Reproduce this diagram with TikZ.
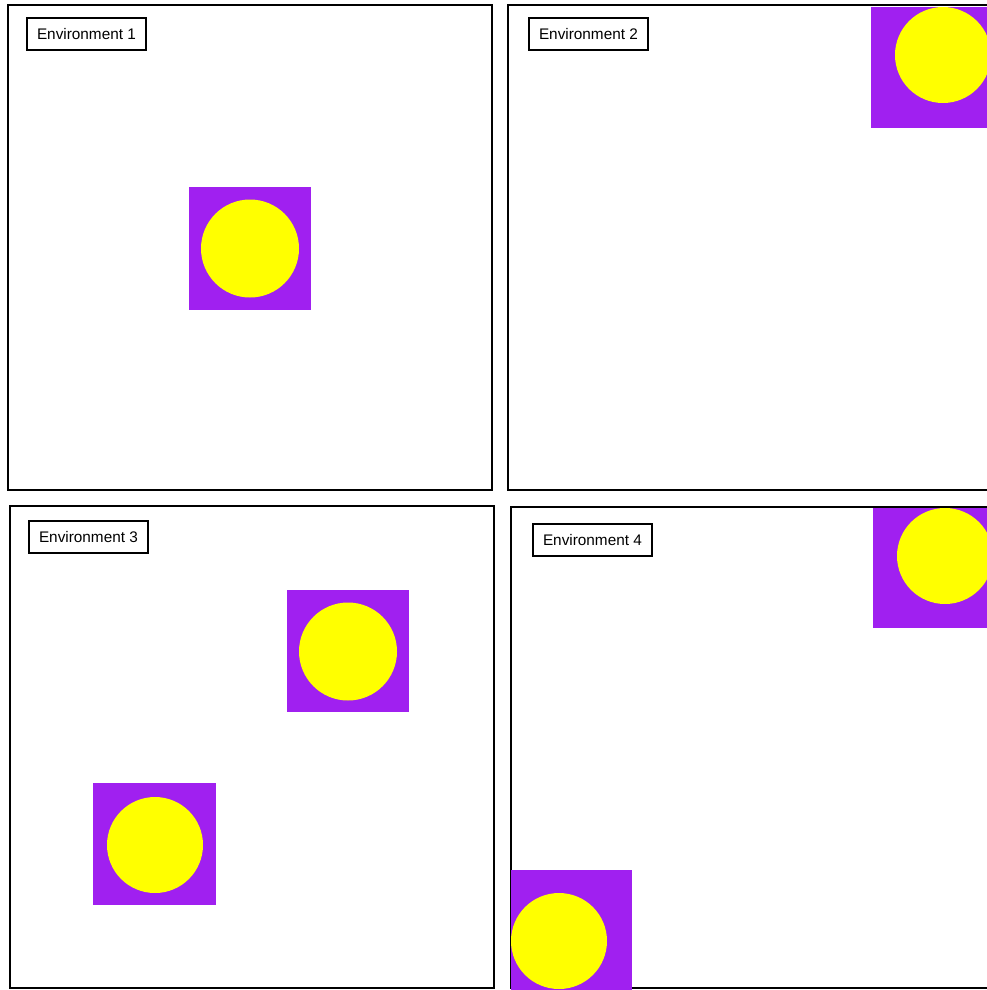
\documentclass[tikz,border=0pt]{standalone}
\usepackage{fontspec}
\setmainfont{Liberation Sans}
\usetikzlibrary{positioning}
\definecolor{tilepurple}{RGB}{160,32,240}
\definecolor{discyellow}{RGB}{255,255,0}

\begin{document}
\begin{tikzpicture}[x=0.75pt, y=-0.75pt,
  frame/.style={draw, line width=1.6pt},
  envlabel/.style={draw, line width=1.5pt, fill=white, anchor=north west,
                   font=\fontsize{11.5}{13}\selectfont, inner xsep=7.5pt,
                   minimum height=24pt},
  tile/.style={fill=tilepurple},
  disc/.style={fill=discyellow}
]
  \clip (0,0) rectangle (987,990);
  \fill[white] (0,0) rectangle (987,990);

  % the four environments
  \draw[frame] (8,5) rectangle (492,490);
  \draw[frame] (508,5) rectangle (1010,490);
  \draw[frame] (10,506) rectangle (494,988);
  \draw[frame] (511,507) rectangle (1010,988);

  \node[envlabel] (env1) at (26,17) {Environment 1};
  \node[envlabel] (env2) at (528,17) {Environment 2};
  \node[envlabel] (env3) at (28,520) {Environment 3};
  \node[envlabel] (env4) at (532,523) {Environment 4};

  % environment 1
  \fill[tile] (189,187) rectangle (311,310);
  \fill[disc] (250,248.5) circle (49);

  % environment 2
  \fill[tile] (871,6.5) rectangle (993,128);
  \fill[disc] (943,55) circle (48);

  % environment 3
  \fill[tile] (287,590) rectangle (409,712);
  \fill[disc] (348,651.5) circle (49);
  \fill[tile] (93,783) rectangle (216,905);
  \fill[disc] (155,845) circle (48);

  % environment 4
  \fill[tile] (873,508) rectangle (995,628);
  \fill[disc] (945,556) circle (48);
  \fill[tile] (511,870) rectangle (632,992);
  \fill[disc] (559,941) circle (48);
\end{tikzpicture}
\end{document}
